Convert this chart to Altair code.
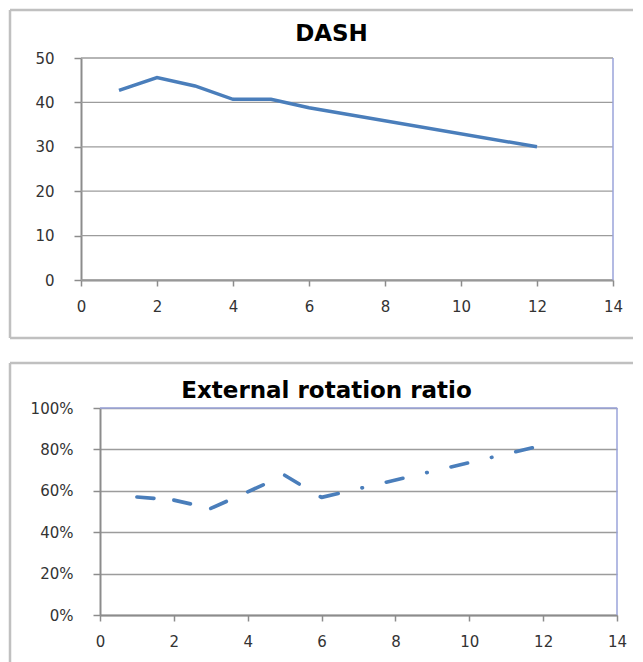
import altair as alt
import pandas as pd

# ---- data ----
weeks = [1, 2, 3, 4, 5, 6, 12]
dash_values = [42.7, 45.6, 43.7, 40.7, 40.7, 38.8, 30.0]
er_ratio = [0.57, 0.555, 0.515, 0.595, 0.675, 0.568, 0.82]
x_ticks = [0, 2, 4, 6, 8, 10, 12, 14]
dash_ticks = [0, 10, 20, 30, 40, 50]
ratio_ticks = [0, 0.2, 0.4, 0.6, 0.8, 1.0]

LINE = "#4a7ebb"
GRID = "#9c9c9c"
AXIS = "#8c8c8c"
FRAME = "#c0c0c0"
PLOTEDGE = "#9aa3da"
FONT = "DejaVu Sans"

SHIFT = 19           # top plot starts this far left of the shared column origin
W1, H1 = 513, 222
W2, H2 = 517, 207

top_df = pd.DataFrame({"week": weeks, "value": dash_values})
grid_df = pd.DataFrame({"v": dash_ticks})

seg_rows = []
for i in range(len(weeks) - 1):
    seg_rows.append({"seg": i, "week": weeks[i], "value": er_ratio[i]})
    seg_rows.append({"seg": i, "week": weeks[i + 1], "value": er_ratio[i + 1]})
bot_df = pd.DataFrame(seg_rows)

one = pd.DataFrame({"k": [0]})


def x_axis():
    return alt.Axis(values=x_ticks, title=None, grid=False, tickSize=6,
                    labelPadding=13, domainColor=AXIS, domainWidth=2,
                    tickColor=AXIS, tickWidth=1.5, labelFlush=False,
                    labelFont=FONT, labelFontSize=15, labelColor="#333333")


def y_axis(vals, fmt=None, grid=True, offset=0):
    kw = dict(values=vals, title=None, grid=grid, gridColor=GRID, gridWidth=1.3,
              tickSize=7, labelPadding=20, domainColor=AXIS, domainWidth=2,
              tickColor=AXIS, tickWidth=1.5, labelFont=FONT, labelFontSize=15,
              labelColor="#333333", offset=offset)
    if fmt:
        kw["format"] = fmt
    return alt.Axis(**kw)


# ---- top panel ----
xs_top = alt.Scale(domain=[0, 14], nice=False, range=[-SHIFT, W1])
ys_top = alt.Scale(domain=[0, 50], nice=False)

top_grid = alt.Chart(grid_df).mark_rule(color=GRID, strokeWidth=1.3).encode(
    y=alt.Y("v:Q", scale=ys_top, axis=y_axis(dash_ticks, grid=False, offset=SHIFT)),
    x=alt.value(-SHIFT), x2=alt.value(W1),
)
top_line = alt.Chart(top_df).mark_line(color=LINE, strokeWidth=3.5).encode(
    x=alt.X("week:Q", scale=xs_top, axis=x_axis()),
    y=alt.Y("value:Q", scale=ys_top, axis=y_axis(dash_ticks, grid=False, offset=SHIFT)),
)
top_edge = alt.Chart(one).mark_rule(color=PLOTEDGE, strokeWidth=1.5).encode(x=alt.datum(14))
top_fl = alt.Chart(one).mark_rule(color=FRAME, strokeWidth=2.5).encode(
    x=alt.value(-90), y=alt.value(-48), y2=alt.value(280))
top_ft = alt.Chart(one).mark_rule(color=FRAME, strokeWidth=2.5).encode(
    x=alt.value(-90), x2=alt.value(533), y=alt.value(-48))
top_fb = alt.Chart(one).mark_rule(color=FRAME, strokeWidth=2.5).encode(
    x=alt.value(-90), x2=alt.value(533), y=alt.value(280))

top = alt.layer(top_grid, top_line, top_edge, top_fl, top_ft, top_fb).properties(
    width=W1, height=H1,
    title=alt.TitleParams("DASH", font=FONT, fontSize=23, fontWeight="bold",
                          color="black", anchor="middle", baseline="alphabetic",
                          offset=-55, dx=-25),
)

# ---- bottom panel ----
bot_line = alt.Chart(bot_df).mark_line(
    color=LINE, strokeWidth=3.7, strokeCap="round", strokeDash=[17, 24.5, 0.5, 24.5]
).encode(
    x=alt.X("week:Q", scale=alt.Scale(domain=[0, 14], nice=False), axis=x_axis()),
    y=alt.Y("value:Q", scale=alt.Scale(domain=[0, 1], nice=False), axis=y_axis(ratio_ticks, ".0%")),
    detail="seg:N",
)
bot_edge = alt.Chart(one).mark_rule(color=PLOTEDGE, strokeWidth=1.5).encode(x=alt.datum(14))
bot_top = alt.Chart(one).mark_rule(color=PLOTEDGE, strokeWidth=1.5).encode(y=alt.datum(1.0))
bot_fl = alt.Chart(one).mark_rule(color=FRAME, strokeWidth=2.5).encode(
    x=alt.value(-90), y=alt.value(-45), y2=alt.value(260))
bot_ft = alt.Chart(one).mark_rule(color=FRAME, strokeWidth=2.5).encode(
    x=alt.value(-90), x2=alt.value(533), y=alt.value(-45))

bottom = alt.layer(bot_line, bot_edge, bot_top, bot_fl, bot_ft).properties(
    width=W2, height=H2,
    title=alt.TitleParams("External rotation ratio", font=FONT, fontSize=23,
                          fontWeight="bold", color="black", anchor="middle",
                          baseline="alphabetic", offset=-59, dx=-32),
)

chart = alt.vconcat(top, bottom, spacing=21).properties(
    padding=0, background="white"
).configure_view(strokeWidth=0)

chart.save("out.html", embed_options={"renderer": "svg", "actions": False})
